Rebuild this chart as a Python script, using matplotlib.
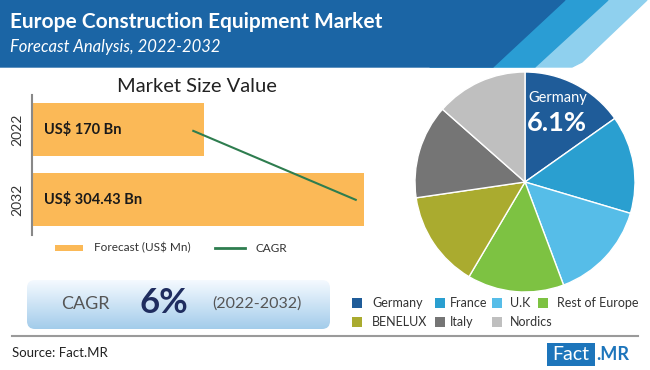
import matplotlib
matplotlib.use("Agg")
import matplotlib.pyplot as plt
import numpy as np
from matplotlib.patches import Polygon, Rectangle, FancyBboxPatch

plt.rcParams['font.family'] = ['Lato', 'DejaVu Sans']

# ---- data ----
years = ["2022", "2032"]
market_values = [170, 304.43]
bar_labels = ["US$ 170 Bn", "US$ 304.43 Bn"]
cagr_line_values = [161, 297.5]

regions = ["Germany", "France", "U.K", "Rest of Europe", "BENELUX", "Italy", "Nordics"]
shares = [15.2, 14.4, 14.7, 14.2, 14.2, 13.8, 13.5]
region_colors = ["#1f5c99", "#2a9fd0", "#56bde8", "#7dc242", "#aaab2f", "#757575", "#bfbfbf"]

W, H = 650, 370
fig = plt.figure(figsize=(W / 100, H / 100), dpi=100)
fig.patch.set_facecolor("white")

def px_axes(l, t, w, h, **kw):
    return fig.add_axes([l / W, 1 - (t + h) / H, w / W, h / H], **kw)

# background / decoration axes
bg = fig.add_axes([0, 0, 1, 1], zorder=0)
bg.set_xlim(0, W)
bg.set_ylim(H, 0)
bg.axis("off")

# header banner
bg.add_patch(Polygon([[430, 0], [647, 0], [582, 62], [572, 67], [430, 67]], closed=True, color="#8fd0ee", zorder=2))
bg.add_patch(Polygon([[430, 0], [608, 0], [535, 67], [430, 67]], closed=True, color="#2a9dd4", zorder=3))
bg.add_patch(Polygon([[0, 0], [565, 0], [493, 67], [0, 67]], closed=True, color="#1b65a5", zorder=4))
bg.text(10, 22, "Europe Construction Equipment Market", color="white", fontsize=15,
        fontweight="bold", va="center", ha="left", zorder=5)
bg.text(10, 47, "Forecast Analysis, 2022-2032", color="white", fontsize=12,
        style="italic", va="center", ha="left", zorder=5)

# bar chart title
bg.text(197, 86, "Market Size Value", fontsize=14.5, color="#222222", ha="center", va="center")

# bar chart legend
bg.add_patch(Rectangle((55, 245), 28, 6, color="#fbb957", lw=0))
bg.text(94, 248, "Forecast (US$ Mn)", fontsize=8.5, color="#333333", va="center")
bg.plot([215, 245], [248, 248], color="#2e7d4f", lw=2)
bg.text(255, 248, "CAGR", fontsize=8.5, color="#333333", va="center")

# CAGR box with gradient
box = FancyBboxPatch((27, 280), 303, 49, boxstyle="round,pad=0,rounding_size=8",
                     facecolor="none", edgecolor="none", zorder=2)
bg.add_patch(box)
grad = np.linspace(0, 1, 100).reshape(-1, 1)
top_c = np.array([0.96, 0.98, 1.0])
bot_c = np.array([0.64, 0.80, 0.92])
img = top_c[None, None, :] * (1 - grad[:, :, None]) + bot_c[None, None, :] * grad[:, :, None]
im = bg.imshow(img, extent=(27, 330, 329, 280), aspect="auto", zorder=2)
im.set_clip_path(box)
bg.set_xlim(0, W)
bg.set_ylim(H, 0)
bg.text(85, 304, "CAGR", fontsize=13, color="#555555", ha="center", va="center", zorder=3)
bg.text(164, 303, "6%", fontsize=25, color="#1f2d5f", fontweight="bold", ha="center", va="center", zorder=3)
bg.text(257, 304, "(2022-2032)", fontsize=11.5, color="#555555", ha="center", va="center", zorder=3)

# separator
bg.plot([12, 638], [336, 336], color="#9a9a9a", lw=1.5)
bg.text(12, 353, "Source: Fact.MR", fontsize=9.5, color="#222222", va="center")

# logo
bg.add_patch(Rectangle((547, 343), 48, 23, color="#1d75bb", lw=0))
bg.text(571, 354.5, "Fact", fontsize=14, color="white", ha="center", va="center")
bg.text(596, 354.5, ".MR", fontsize=13, color="#1d75bb", fontweight="bold", ha="left", va="center")

# pie legend
leg_rows = [[(357, 372), (440, 450), (497, 510), (543, 557)],
            [(357, 372), (440, 450), (497, 510)]]
row_y = [303, 322]
k = 0
for r, row in enumerate(leg_rows):
    for (sx, tx) in row:
        bg.add_patch(Rectangle((sx - 5, row_y[r] - 5), 10, 10, color=region_colors[k], lw=0))
        bg.text(tx, row_y[r], regions[k], fontsize=9, color="#333333", va="center")
        k += 1

# ---- bar chart ----
ax = px_axes(32, 95, 332, 140, zorder=2)
ax.patch.set_alpha(0)
ypos = np.arange(len(years))
ax.barh(ypos, market_values, height=0.75, color="#fbb957", zorder=1)
ax.plot(cagr_line_values, [0.02, 1.0], color="#2e7d4f", lw=1.5, zorder=2)
for y, lab in zip(ypos, bar_labels):
    ax.text(12 / 332, y, lab, fontsize=10.5, fontweight="bold", color="#1a1a1a", va="center",
            ha="left", zorder=3, transform=ax.get_yaxis_transform())
ax.set_xlim(25.5, 304.43)
ax.set_ylim(1.5, -0.49)
ax.set_yticks(ypos)
ax.set_yticklabels(years, rotation=90, va="center", fontsize=10, color="#333333")
ax.tick_params(axis="y", length=0, pad=6)
ax.set_xticks([])
for s in ["top", "right", "bottom"]:
    ax.spines[s].set_visible(False)
ax.spines["left"].set_color("#888888")
ax.spines["left"].set_linewidth(1.5)

# ---- pie chart ----
pax = px_axes(415, 72, 220, 220, zorder=2)
pax.pie(shares, colors=region_colors, startangle=90, counterclock=False, radius=1,
        wedgeprops=dict(edgecolor="white", linewidth=1))
pax.set_xlim(-1, 1)
pax.set_ylim(-1, 1)
pax.set_aspect("equal")
def pdx(x):
    return (x - 525) / 110
def pdy(y):
    return (182 - y) / 110
pax.text(pdx(528), pdy(98), "Germany", fontsize=10.5, color="white", ha="left", va="center")
pax.text(pdx(527), pdy(123), "6.1%", fontsize=19.5, fontweight="bold", color="white", ha="left", va="center")

fig.savefig("out.png", dpi=100, facecolor="white")
